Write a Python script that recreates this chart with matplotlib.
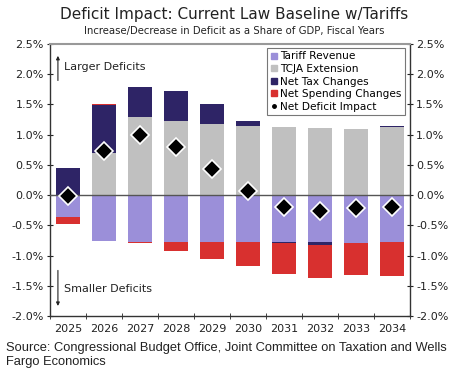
import numpy as np
import matplotlib
matplotlib.use("Agg")
import matplotlib.pyplot as plt
from matplotlib.lines import Line2D
from matplotlib.ticker import FuncFormatter, MultipleLocator

# values (% of GDP)
years = ["2025", "2026", "2027", "2028", "2029", "2030", "2031", "2032", "2033", "2034"]
tariff = [-0.36, -0.76, -0.77, -0.77, -0.77, -0.77, -0.78, -0.78, -0.79, -0.77]
tcja = [0.0, 0.69, 1.30, 1.22, 1.18, 1.14, 1.12, 1.11, 1.10, 1.13]
net_tax = [0.45, 0.80, 0.49, 0.51, 0.32, 0.09, -0.02, -0.04, 0.0, 0.01]
net_spend = [-0.11, 0.02, -0.02, -0.16, -0.29, -0.40, -0.50, -0.55, -0.53, -0.57]
net_impact = [-0.02, 0.73, 1.00, 0.79, 0.44, 0.06, -0.19, -0.26, -0.22, -0.20]

series = [
    ("Tariff Revenue", tariff, "#9b8fd9"),
    ("TCJA Extension", tcja, "#c0c0c0"),
    ("Net Tax Changes", net_tax, "#2e2466"),
    ("Net Spending Changes", net_spend, "#d8302f"),
]

plt.rcParams["font.family"] = "DejaVu Sans"

fig = plt.figure(figsize=(4.69, 3.79), dpi=100)
ax = fig.add_axes([50 / 469, 1 - 316 / 379, 360 / 469, 272 / 379])

x = np.arange(len(years))
pos_bottom = np.zeros(len(years))
neg_bottom = np.zeros(len(years))
for name, vals, col in series:
    v = np.array(vals)
    b = np.where(v >= 0, pos_bottom, neg_bottom)
    ax.bar(x, v, width=0.67, bottom=b, color=col, zorder=2)
    pos_bottom += np.where(v >= 0, v, 0)
    neg_bottom += np.where(v < 0, v, 0)

ax.axhline(0, color="#555555", lw=1.0, zorder=3)
ax.plot(x, net_impact, linestyle="none", marker="D", markersize=9.5,
        markerfacecolor="black", markeredgecolor="white", markeredgewidth=1.2, zorder=4)

ax.set_xlim(-0.5, len(years) - 0.5)
ax.set_ylim(-2.0, 2.5)
ax.yaxis.set_major_locator(MultipleLocator(0.5))
ax.yaxis.set_major_formatter(FuncFormatter(lambda v, p: f"{v:.1f}%"))
ax.tick_params(axis="y", which="both", direction="inout", length=5, labelsize=8,
               colors="#222222", left=True, right=True, labelleft=True, labelright=True,
               pad=2)
ax.set_xticks(x)
ax.set_xticklabels(years)
ax.set_xticks(np.arange(len(years) + 1) - 0.5, minor=True)
ax.tick_params(axis="x", which="major", length=0, labelsize=8, colors="#222222", pad=6)
ax.tick_params(axis="x", which="minor", direction="inout", length=5, color="#222222")

for s in ["left", "right", "bottom"]:
    ax.spines[s].set_color("#333333")
    ax.spines[s].set_linewidth(1.0)
ax.spines["top"].set_color("#999999")
ax.spines["top"].set_linewidth(1.5)

# direction annotations
ax.annotate("", xy=(-0.28, 2.35), xytext=(-0.28, 1.85),
            arrowprops=dict(arrowstyle="-|>", color="#222222", lw=0.8, mutation_scale=5))
ax.text(-0.12, 2.12, "Larger Deficits", fontsize=8, va="center", color="#222222")
ax.annotate("", xy=(-0.28, -1.88), xytext=(-0.28, -1.2),
            arrowprops=dict(arrowstyle="-|>", color="#222222", lw=0.8, mutation_scale=5))
ax.text(-0.12, -1.55, "Smaller Deficits", fontsize=8, va="center", color="#222222")

handles = [Line2D([], [], linestyle="none", marker="s", markersize=5,
                  markerfacecolor=col, markeredgecolor=col) for _, _, col in series]
handles.append(Line2D([], [], linestyle="none", marker="o", markersize=2.5,
                      markerfacecolor="black", markeredgecolor="black"))
labels = [s[0] for s in series] + ["Net Deficit Impact"]
leg = ax.legend(handles, labels, loc="upper right", bbox_to_anchor=(0.985, 0.985),
                fontsize=7.6, frameon=True, fancybox=False, handlelength=0.6,
                handletextpad=0.3, labelspacing=0.25, borderpad=0.3, borderaxespad=0)
leg.get_frame().set_edgecolor("#555555")
leg.get_frame().set_linewidth(0.8)

fig.text(0.5, 1 - 15 / 379, "Deficit Impact: Current Law Baseline w/Tariffs",
         ha="center", va="center", fontsize=11, color="#222222")
fig.text(0.5, 1 - 31 / 379, "Increase/Decrease in Deficit as a Share of GDP, Fiscal Years",
         ha="center", va="center", fontsize=7.3, color="#222222")
fig.text(6 / 469, 1 - 355 / 379,
         "Source: Congressional Budget Office, Joint Committee on Taxation and Wells\nFargo Economics",
         ha="left", va="center", fontsize=9.3, family="Liberation Sans",
         color="#222222", linespacing=1.15)

fig.savefig("out.png", dpi=100)
